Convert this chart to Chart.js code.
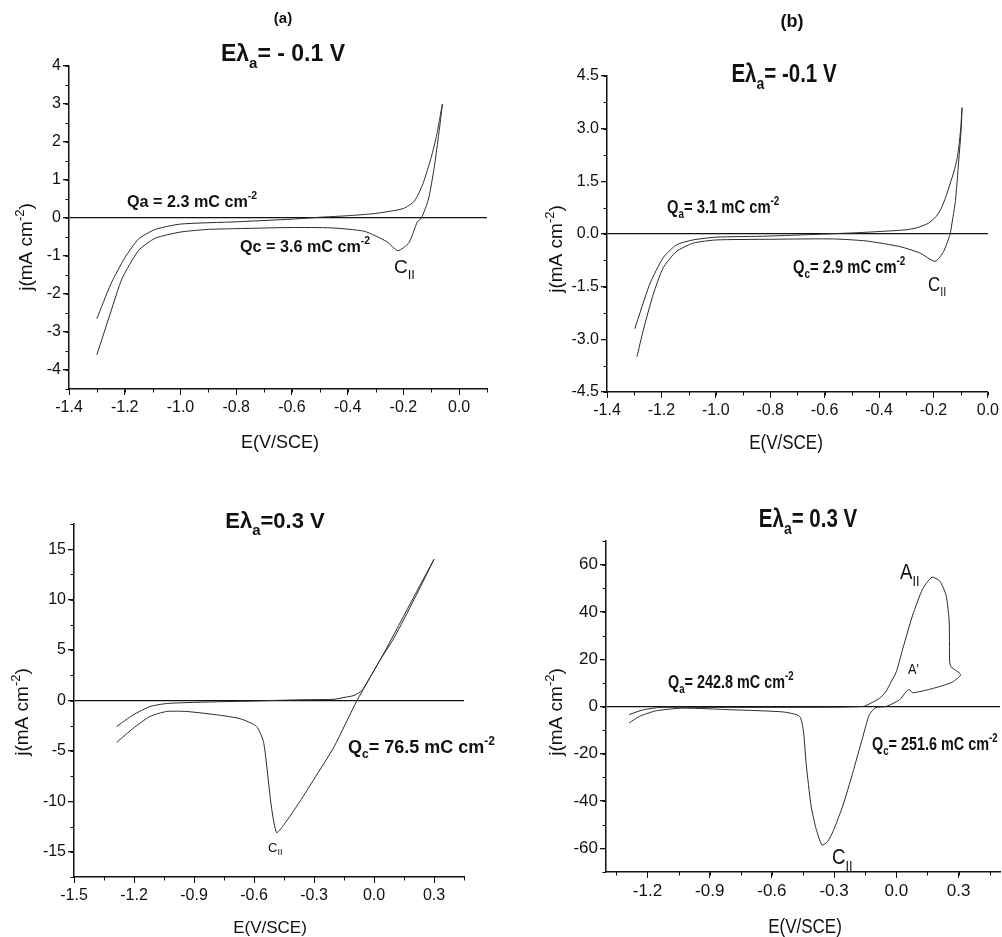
<!DOCTYPE html>
<html>
<head>
<meta charset="utf-8">
<script src="https://cdn.jsdelivr.net/npm/chart.js@4.4.1/dist/chart.umd.min.js"></script>
<style>
  body { margin: 0; background: #fff; }
  #wrap { position: relative; width: 1002px; height: 937px; overflow: hidden; }
  #wrap canvas { position: absolute; left: 0; top: 0; }
</style>
</head>
<body>
<div id="wrap">
  <canvas id="pa" width="1002" height="937"></canvas>
  <canvas id="pb" width="1002" height="937"></canvas>
  <canvas id="pc" width="1002" height="937"></canvas>
  <canvas id="pd" width="1002" height="937"></canvas>
</div>
<script>
// (a) Eλa = -0.1 V : cathodic sweep then return, E in V/SCE, j in mA cm-2
const aE = [-1.30, -1.25, -1.21, -1.15, -1.09, -1.00, -0.90, -0.80, -0.60, -0.46, -0.34, -0.26, -0.22, -0.18, -0.15, -0.135, -0.11, -0.09, -0.075, -0.06,
            -0.07, -0.08, -0.10, -0.13, -0.16, -0.20, -0.30, -0.40, -0.50, -0.60, -0.80, -1.00, -1.09, -1.15, -1.20, -1.25, -1.30];
const aJ = [-3.6, -2.47, -1.6, -0.85, -0.53, -0.37, -0.3, -0.28, -0.25, -0.26, -0.35, -0.62, -0.86, -0.65, -0.1, 0.0, 0.5, 1.3, 2.1, 3.0,
            2.6, 2.2, 1.6, 0.9, 0.45, 0.25, 0.12, 0.06, 0.02, -0.03, -0.1, -0.16, -0.3, -0.55, -1.05, -1.74, -2.65];
const aXTicks = [-1.4, -1.2, -1.0, -0.8, -0.6, -0.4, -0.2, 0.0];
const aYTicks = [-4, -3, -2, -1, 0, 1, 2, 3, 4];

// (b) Eλa = -0.1 V
const bE = [-1.29, -1.267, -1.23, -1.194, -1.145, -1.083, -1.0, -0.8, -0.57, -0.445, -0.323, -0.25, -0.194, -0.163, -0.139, -0.13, -0.12, -0.113, -0.105, -0.098, -0.095,
            -0.099, -0.105, -0.113, -0.124, -0.138, -0.155, -0.172, -0.19, -0.22, -0.26, -0.3, -0.4, -0.5, -0.81, -1.0, -1.084, -1.145, -1.194, -1.243, -1.298];
const bJ = [-3.5, -2.75, -1.72, -0.97, -0.5, -0.26, -0.17, -0.15, -0.14, -0.2, -0.36, -0.54, -0.78, -0.5, 0.0, 0.4, 0.9, 1.5, 2.3, 3.0, 3.6,
            3.1, 2.6, 2.15, 1.8, 1.45, 1.05, 0.72, 0.5, 0.3, 0.18, 0.12, 0.07, 0.03, -0.06, -0.09, -0.17, -0.31, -0.68, -1.43, -2.7];
const bXTicks = [-1.4, -1.2, -1.0, -0.8, -0.6, -0.4, -0.2, 0.0];
const bYTicks = [-4.5, -3.0, -1.5, 0.0, 1.5, 3.0, 4.5];

// (a) Eλa = 0.3 V
const cE = [-1.287, -1.203, -1.12, -1.037, -0.937, -0.787, -0.67, -0.587, -0.553, -0.537, -0.512, -0.487, -0.45, -0.37, -0.3, -0.2, -0.085, 0.047, 0.2, 0.3,
            0.2, 0.1, 0.03, -0.02, -0.06, -0.1, -0.15, -0.2, -0.37, -0.6, -0.87, -1.037, -1.12, -1.203, -1.287];
const cJ = [-4.16, -2.74, -1.58, -1.09, -1.09, -1.42, -1.8, -2.57, -4.06, -6.4, -10.7, -13.1, -12.3, -10.0, -7.8, -4.6, 0.0, 4.6, 10.3, 14.0,
            10.0, 6.2, 4.0, 2.3, 1.0, 0.5, 0.3, 0.12, 0.07, -0.05, -0.17, -0.3, -0.6, -1.42, -2.57];
const cXTicks = [-1.5, -1.2, -0.9, -0.6, -0.3, 0.0, 0.3];
const cYTicks = [-15, -10, -5, 0, 5, 10, 15];

// (b) Eλa = 0.3 V
const dE = [-1.288, -1.237, -1.157, -1.028, -0.788, -0.547, -0.467, -0.448, -0.435, -0.411, -0.387, -0.358, -0.33, -0.306, -0.258, -0.21, -0.162, -0.13, -0.098, -0.05,
            0.015, 0.047, 0.063, 0.079, 0.175, 0.27, 0.31, 0.264, 0.257, 0.255, 0.24, 0.21, 0.172, 0.127, 0.079, 0.031, 0.0, -0.026, -0.05, -0.082, -0.146, -0.162,
            -0.3, -0.95, -1.14, -1.22, -1.288];
const dJ = [-6.9, -4.1, -1.8, -0.7, -1.4, -2.3, -4.1, -10.3, -24, -42, -51.7, -58.6, -57, -53, -42, -28, -13, -3.4, -0.4, 0.0,
            2.8, 6.2, 7.2, 5.8, 7.6, 10.3, 13.5, 16.8, 19, 36, 47, 53, 54.7, 49.7, 38.7, 24.4, 14.7, 10.3, 6.3, 3.4, 0.4, 0.0,
            -0.3, -0.4, -0.4, -1.4, -3.4];
const dXTicks = [-1.2, -0.9, -0.6, -0.3, 0.0, 0.3];
const dYTicks = [-60, -40, -20, 0, 20, 40, 60];

const INK = '#111';
const SANS = '"Liberation Sans", Arial, sans-serif';
const SUP2 = ['-2', 'sup'];

// per-panel extras: axis limits, minor tick steps and the text set around the plot
const panels = {
  pa: {
    x: { min: -1.4, max: 0.1, minor: 0.1, dec: 1 }, y: { min: -4.5, max: 4, minor: 0.5, dec: 0 },
    box: { l: 69, r: 487, t: 66, b: 389 }, tick: 16,
    notes: [
      { p: [['(a)']], x: 283, y: 19, size: 15, bold: true, align: 'center' },
      { p: [['Eλ'], ['a', 'sub'], ['= - 0.1 V']], x: 283, y: 55, size: 23, bold: true, align: 'center' },
      { p: [['Qa = 2.3 mC cm'], SUP2], x: 127, y: 202, size: 17, bold: true, hs: 0.95 },
      { p: [['Qc = 3.6 mC cm'], SUP2], x: 240, y: 247, size: 17, bold: true, hs: 0.95 },
      { p: [['C'], ['II', 'sub']], x: 394, y: 268, size: 19 },
      { p: [['j(mA cm'], SUP2, [')']], x: 27, y: 247, size: 19, align: 'center', rot: true },
      { p: [['E(V/SCE)']], x: 280, y: 443, size: 18, align: 'center' }
    ]
  },
  pb: {
    x: { min: -1.4, max: 0.0, minor: 0.1, dec: 1 }, y: { min: -4.5, max: 4.5, minor: 0.75, dec: 1 },
    box: { l: 607, r: 988, t: 76, b: 392 }, tick: 16,
    notes: [
      { p: [['(b)']], x: 792, y: 22, size: 18, bold: true, align: 'center' },
      { p: [['Eλ'], ['a', 'sub'], ['= -0.1 V']], x: 784, y: 75, size: 25, bold: true, align: 'center', hs: 0.82 },
      { p: [['Q'], ['a', 'sub'], ['= 3.1 mC cm'], SUP2], x: 667, y: 208, size: 18, bold: true, hs: 0.82 },
      { p: [['Q'], ['c', 'sub'], ['= 2.9 mC cm'], SUP2], x: 793, y: 268, size: 18, bold: true, hs: 0.82 },
      { p: [['C'], ['II', 'sub']], x: 928, y: 285, size: 20, hs: 0.85 },
      { p: [['j(mA cm'], SUP2, [')']], x: 557, y: 249, size: 19, align: 'center', rot: true },
      { p: [['E(V/SCE)']], x: 786, y: 443, size: 20, align: 'center', hs: 0.85 }
    ]
  },
  pc: {
    x: { min: -1.5, max: 0.45, minor: 0.15, dec: 1 }, y: { min: -17.5, max: 17.5, minor: 2.5, dec: 0 },
    box: { l: 74, r: 464, t: 524, b: 877 }, tick: 16,
    notes: [
      { p: [['Eλ'], ['a', 'sub'], ['=0.3 V']], x: 275, y: 522, size: 22, bold: true, align: 'center' },
      { p: [['Q'], ['c', 'sub'], ['= 76.5 mC cm'], SUP2], x: 348, y: 748, size: 18, bold: true },
      { p: [['C'], ['II', 'sub']], x: 268, y: 848, size: 13 },
      { p: [['j(mA cm'], SUP2, [')']], x: 23, y: 712, size: 19, align: 'center', rot: true },
      { p: [['E(V/SCE)']], x: 270, y: 928, size: 17, align: 'center' }
    ]
  },
  pd: {
    x: { min: -1.4, max: 0.5, minor: 0.15, minorFrom: -1.35, dec: 1 }, y: { min: -70, max: 70, minor: 10, dec: 0 },
    box: { l: 606, r: 1000, t: 541, b: 872 }, tick: 17,
    notes: [
      { p: [['Eλ'], ['a', 'sub'], ['= 0.3 V']], x: 808, y: 520, size: 25, bold: true, align: 'center', hs: 0.82 },
      { p: [['A'], ['II', 'sub']], x: 900, y: 573, size: 22, hs: 0.85 },
      { p: [["A'"]], x: 908, y: 670, size: 15, hs: 0.85 },
      { p: [['Q'], ['a', 'sub'], ['= 242.8 mC cm'], SUP2], x: 668, y: 683, size: 18, bold: true, hs: 0.8 },
      { p: [['Q'], ['c', 'sub'], ['= 251.6 mC cm'], SUP2], x: 872, y: 745, size: 18, bold: true, hs: 0.8 },
      { p: [['C'], ['II', 'sub']], x: 832, y: 858, size: 22, hs: 0.85 },
      { p: [['j(mA cm'], SUP2, [')']], x: 557, y: 712, size: 19, align: 'center', rot: true },
      { p: [['E(V/SCE)']], x: 805, y: 927, size: 20, align: 'center', hs: 0.85 }
    ]
  }
};

function drawRich(ctx, n) {
  const w8 = n.bold ? 'bold ' : '';
  const big = w8 + n.size + 'px ' + SANS;
  const small = w8 + Math.round(n.size * 0.66) + 'px ' + SANS;
  const hs = n.hs || 1;
  let width = 0;
  n.p.forEach(part => { ctx.font = part[1] ? small : big; width += ctx.measureText(part[0]).width; });
  ctx.save();
  ctx.translate(n.x, n.y);
  if (n.rot) ctx.rotate(-Math.PI / 2);
  ctx.scale(hs, 1);
  ctx.fillStyle = INK;
  ctx.textBaseline = 'middle';
  ctx.textAlign = 'left';
  let cx = n.align === 'center' ? -width / 2 : 0;
  n.p.forEach(part => {
    ctx.font = part[1] ? small : big;
    const dy = part[1] === 'sub' ? n.size * 0.38 : part[1] === 'sup' ? -n.size * 0.36 : 0;
    ctx.fillText(part[0], cx, dy);
    cx += ctx.measureText(part[0]).width;
  });
  ctx.restore();
}

const decor = {
  id: 'decor',
  afterDraw(chart) {
    const cfg = panels[chart.canvas.id];
    const ctx = chart.ctx, xs = chart.scales.x, ys = chart.scales.y, area = chart.chartArea;
    ctx.save();
    ctx.strokeStyle = INK;
    ctx.lineWidth = 1;
    ctx.beginPath();
    // minor ticks, shorter than the major ones drawn by Chart.js
    const from = cfg.x.minorFrom !== undefined ? cfg.x.minorFrom : cfg.x.min;
    const nx = Math.round((cfg.x.max - from) / cfg.x.minor);
    for (let k = 0; k <= nx; k++) {
      const px = Math.round(xs.getPixelForValue(from + k * cfg.x.minor)) + 0.5;
      ctx.moveTo(px, area.bottom);
      ctx.lineTo(px, area.bottom + 3.5);
    }
    const ny = Math.round((cfg.y.max - cfg.y.min) / cfg.y.minor);
    for (let k = 0; k <= ny; k++) {
      const py = Math.round(ys.getPixelForValue(cfg.y.min + k * cfg.y.minor)) + 0.5;
      ctx.moveTo(area.left, py);
      ctx.lineTo(area.left - 3.5, py);
    }
    ctx.stroke();
    ctx.restore();
    cfg.notes.forEach(n => drawRich(ctx, n));
  }
};

function makeChart(id, E, J, xTicks, yTicks) {
  const cfg = panels[id];
  const W = 1002, H = 937, AX = 40;
  const fmt = d => v => Number(v).toFixed(d);
  new Chart(document.getElementById(id), {
    type: 'scatter',
    data: {
      datasets: [{
        data: E.map((e, i) => ({ x: e, y: J[i] })),
        showLine: true,
        pointRadius: 0,
        borderColor: '#2a2a2a',
        borderWidth: 1,
        tension: 0.2,
        fill: false
      }]
    },
    options: {
      responsive: false,
      animation: false,
      events: [],
      layout: {
        padding: { left: cfg.box.l - AX, right: W - cfg.box.r, top: cfg.box.t, bottom: H - cfg.box.b - AX }
      },
      plugins: { legend: { display: false }, tooltip: { enabled: false }, title: { display: false } },
      scales: {
        x: {
          type: 'linear', min: cfg.x.min, max: cfg.x.max,
          afterBuildTicks: s => { s.ticks = xTicks.map(v => ({ value: v })); },
          afterFit: s => { s.height = AX; },
          ticks: { callback: fmt(cfg.x.dec), color: INK, font: { family: SANS, size: cfg.tick }, padding: 3, maxRotation: 0, autoSkip: false },
          grid: { drawOnChartArea: false, tickLength: 6, tickColor: INK, lineWidth: 1 },
          border: { color: INK, width: 1.5 }
        },
        y: {
          type: 'linear', min: cfg.y.min, max: cfg.y.max,
          afterBuildTicks: s => { s.ticks = yTicks.map(v => ({ value: v })); },
          afterFit: s => { s.width = AX; },
          ticks: { callback: fmt(cfg.y.dec), color: INK, font: { family: SANS, size: cfg.tick }, padding: 2, autoSkip: false },
          grid: {
            drawOnChartArea: true, tickLength: 6, tickColor: INK, lineWidth: 1.3,
            color: c => (c.tick && c.tick.value === 0) ? INK : 'rgba(0,0,0,0)'
          },
          border: { color: INK, width: 1.5 }
        }
      }
    },
    plugins: [decor]
  });
}

makeChart('pa', aE, aJ, aXTicks, aYTicks);
makeChart('pb', bE, bJ, bXTicks, bYTicks);
makeChart('pc', cE, cJ, cXTicks, cYTicks);
makeChart('pd', dE, dJ, dXTicks, dYTicks);
</script>
</body>
</html>
